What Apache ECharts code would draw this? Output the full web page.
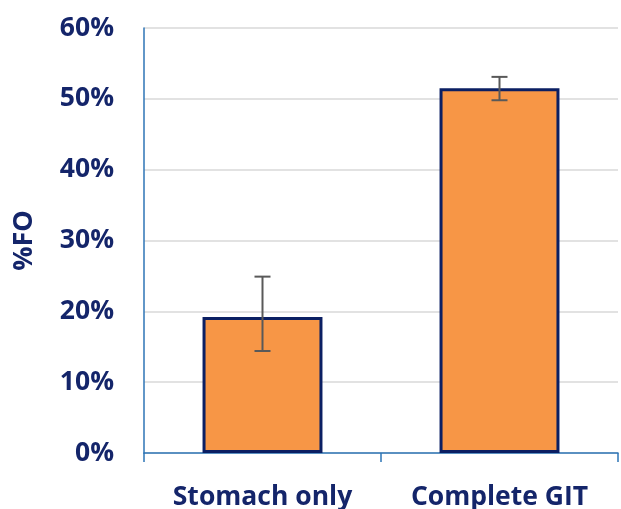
<!DOCTYPE html>
<html>
<head>
<meta charset="utf-8">
<script src="https://cdn.jsdelivr.net/npm/echarts@6/dist/echarts.min.js"></script>
<style>html,body{margin:0;padding:0;background:#fff;}#c{width:621px;height:509px;}</style>
</head>
<body>
<div id="c"></div>
<script>
var categories = ['Stomach only', 'Complete GIT'];
var values = [19.2, 51.5];
var errLow = [14.4, 49.8];
var errHigh = [24.9, 53.1];
var yTicks = [0, 10, 20, 30, 40, 50, 60];

var navy = '#14256A';
var chart = echarts.init(document.getElementById('c'));
chart.setOption({
  animation: false,
  grid: {left: 144, right: 3, top: 28, bottom: 56, outerBoundsMode: 'none', containLabel: false},
  xAxis: {
    type: 'category',
    data: categories,
    axisLine: {lineStyle: {color: '#2E75B6', width: 1.5}},
    axisTick: {show: true, length: 9, interval: 0, lineStyle: {color: '#2E75B6', width: 1.5}},
    axisLabel: {color: navy, fontFamily: 'Open Sans', fontWeight: 'bold', fontSize: 26.5, margin: 31},
    splitLine: {show: false}
  },
  yAxis: {
    type: 'value',
    min: yTicks[0],
    max: yTicks[yTicks.length - 1],
    interval: 10,
    name: '%FO',
    nameLocation: 'middle',
    nameGap: 106,
    nameTextStyle: {color: navy, fontFamily: 'Open Sans', fontWeight: 'bold', fontSize: 27},
    axisLine: {show: true, lineStyle: {color: '#2E75B6', width: 1.5}},
    axisTick: {show: false},
    axisLabel: {color: navy, fontFamily: 'Open Sans', fontWeight: 'bold', fontSize: 26.5, margin: 30, formatter: '{value}%'},
    splitLine: {lineStyle: {color: '#D9D9D9', width: 1.5}}
  },
  series: [
    {
      type: 'bar',
      data: values,
      barWidth: '50.6%',
      itemStyle: {color: '#F79646', borderColor: '#0B1F63', borderWidth: 3}
    },
    {
      type: 'custom',
      z: 5,
      data: categories.map(function (c, i) { return [i, errLow[i], errHigh[i]]; }),
      renderItem: function (params, api) {
        var lo = api.coord([api.value(0), api.value(1)]);
        var hi = api.coord([api.value(0), api.value(2)]);
        var hw = 8;
        var st = {stroke: '#595959', lineWidth: 2};
        return {
          type: 'group',
          children: [
            {type: 'line', shape: {x1: lo[0], y1: lo[1], x2: hi[0], y2: hi[1]}, style: st},
            {type: 'line', shape: {x1: lo[0] - hw, y1: lo[1], x2: lo[0] + hw, y2: lo[1]}, style: st},
            {type: 'line', shape: {x1: hi[0] - hw, y1: hi[1], x2: hi[0] + hw, y2: hi[1]}, style: st}
          ]
        };
      }
    }
  ]
});
</script>
</body>
</html>
